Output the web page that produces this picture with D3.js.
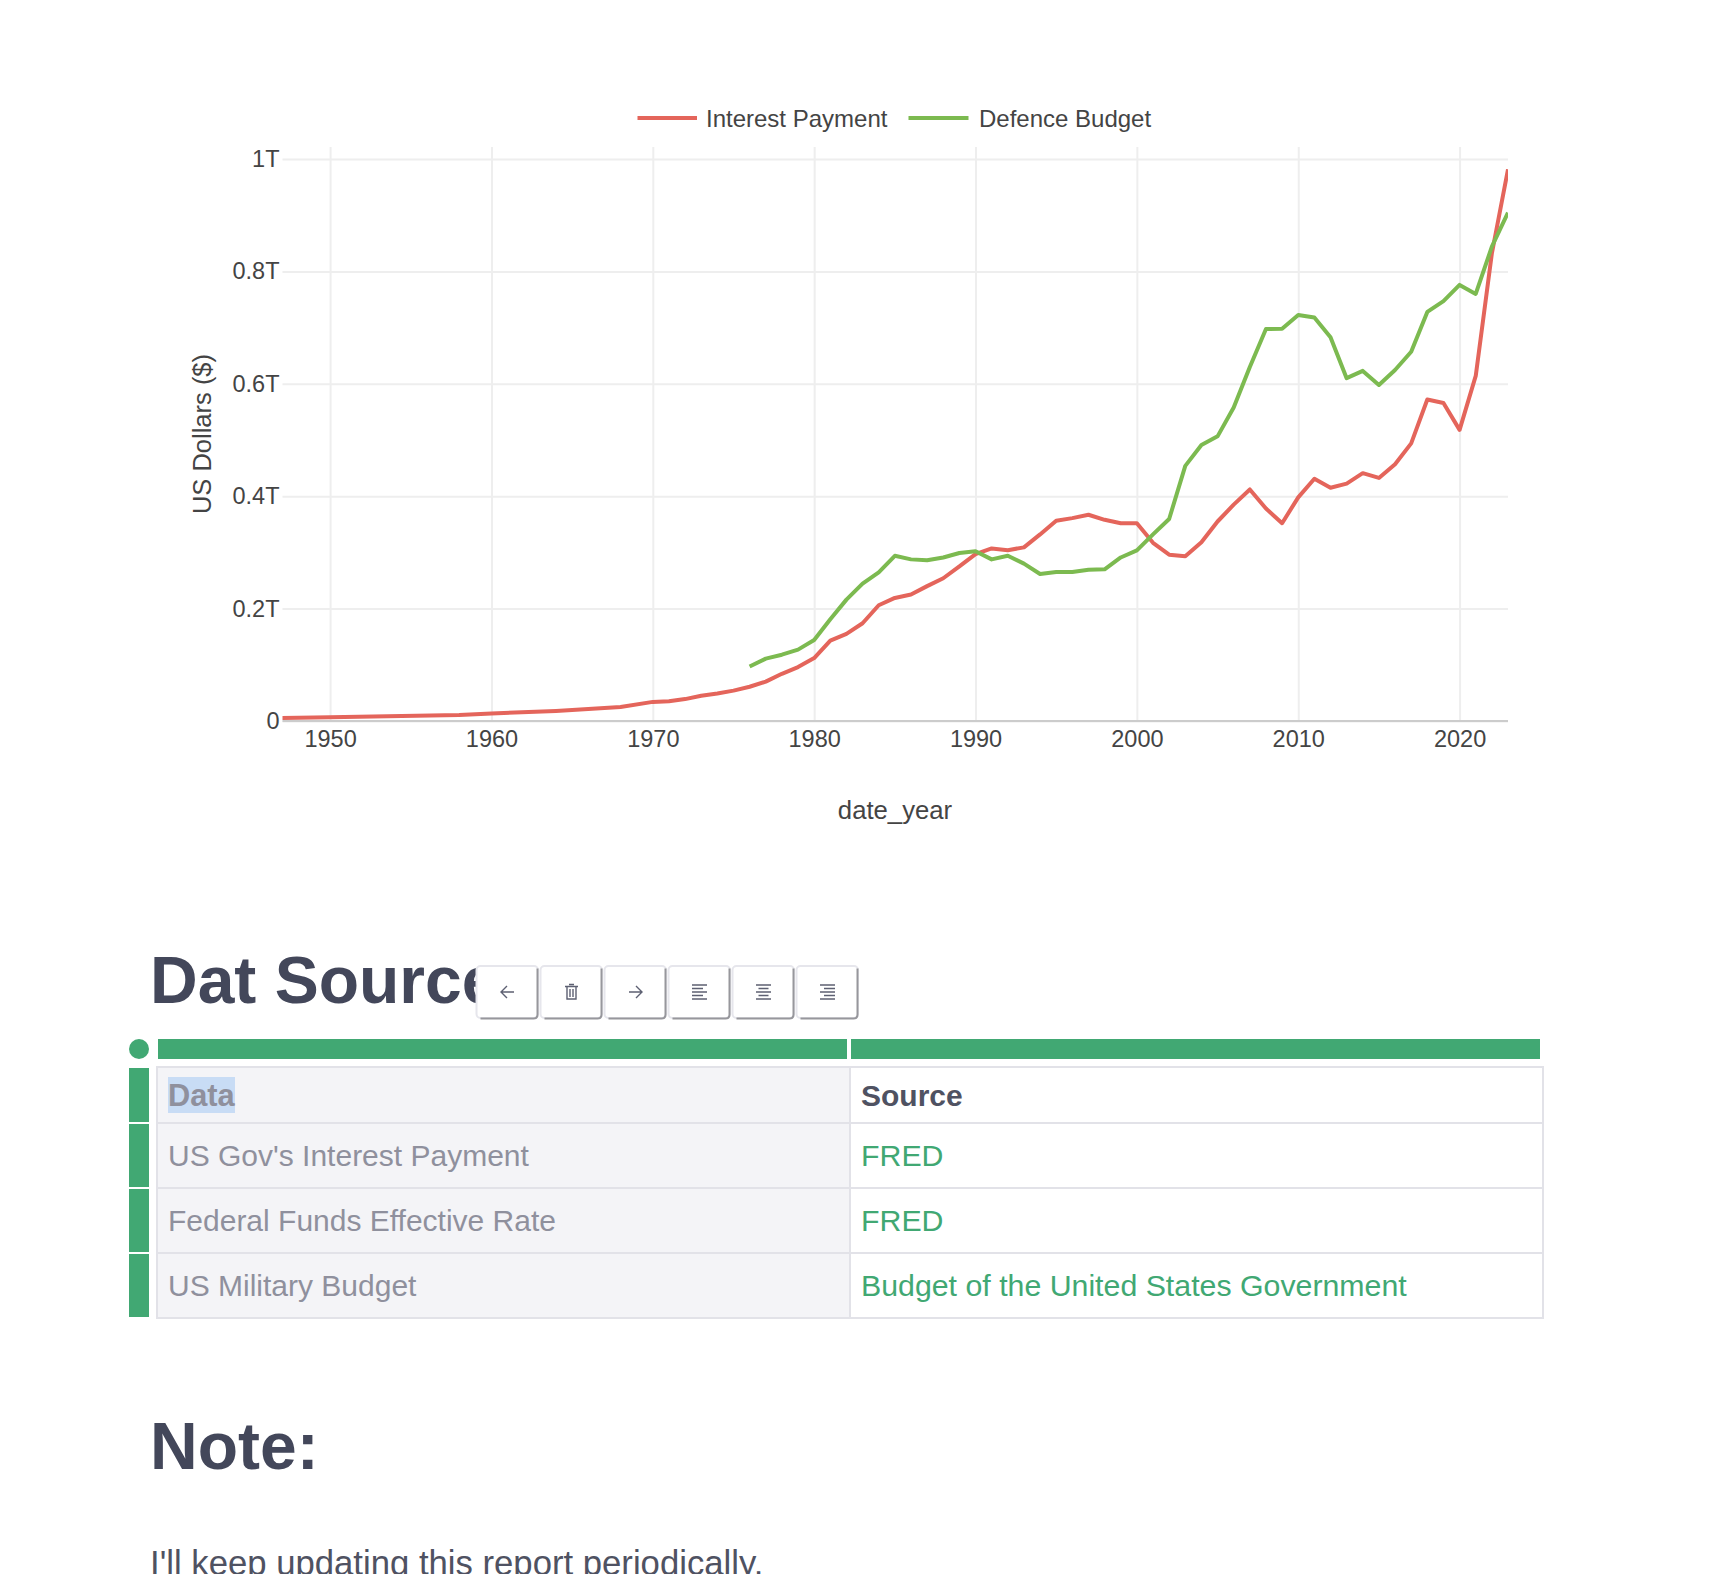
<!DOCTYPE html>
<html>
<head>
<meta charset="utf-8">
<style>
  html, body { margin: 0; padding: 0; background: #fff; overflow: hidden; }
  svg { display: block; font-family: "Liberation Sans", Arial, sans-serif; }
</style>
<script src="https://cdn.jsdelivr.net/npm/d3@7"></script>
</head>
<body>
<script>
const interestYears = [1947, 1950, 1958, 1960, 1964, 1968, 1970, 1971, 1972, 1973, 1974, 1975, 1976, 1977, 1978, 1979,
  1980, 1981, 1982, 1983, 1984, 1985, 1986, 1987, 1988, 1989, 1990, 1991, 1992, 1993, 1994, 1995, 1996, 1997, 1998, 1999,
  2000, 2001, 2002, 2003, 2004, 2005, 2006, 2007, 2008, 2009, 2010, 2011, 2012, 2013, 2014, 2015, 2016, 2017, 2018, 2019,
  2020, 2021, 2022, 2023]
const interestValues = [0.0053, 0.0065, 0.0106, 0.0135, 0.018, 0.025, 0.034, 0.035, 0.039, 0.045, 0.049, 0.054, 0.061, 0.07, 0.084, 0.096,
  0.112, 0.143, 0.155, 0.174, 0.206, 0.219, 0.225, 0.24, 0.254, 0.275, 0.297, 0.307, 0.304, 0.309, 0.332, 0.3565, 0.361, 0.367, 0.358, 0.352,
  0.352, 0.317, 0.296, 0.293, 0.318, 0.355, 0.385, 0.412, 0.378, 0.352, 0.398, 0.431, 0.415, 0.4225, 0.441, 0.4325, 0.457, 0.494, 0.572, 0.566,
  0.518, 0.614, 0.832, 0.9816]
const defenceYears = [1976, 1977, 1978, 1979, 1980, 1981, 1982, 1983, 1984, 1985, 1986, 1987, 1988, 1989, 1990, 1991, 1992, 1993, 1994, 1995,
  1996, 1997, 1998, 1999, 2000, 2001, 2002, 2003, 2004, 2005, 2006, 2007, 2008, 2009, 2010, 2011, 2012, 2013, 2014, 2015, 2016, 2017, 2018,
  2019, 2020, 2021, 2022, 2023]
const defenceValues = [0.097, 0.111, 0.118, 0.127, 0.144, 0.181, 0.216, 0.2445, 0.2646, 0.294, 0.2876, 0.286, 0.291, 0.299, 0.302, 0.2876, 0.294, 0.28, 0.2616, 0.265,
  0.265, 0.269, 0.27, 0.291, 0.3035, 0.332, 0.3595, 0.454, 0.491, 0.5065, 0.558, 0.63, 0.6975, 0.698, 0.7224, 0.718, 0.683, 0.61, 0.623, 0.598, 0.6245, 0.657, 0.728,
  0.747, 0.776, 0.76, 0.844, 0.9045]

const xTicks = [1950, 1960, 1970, 1980, 1990, 2000, 2010, 2020]
const yTicks = [0, 0.2, 0.4, 0.6, 0.8, 1]
const yTickLabels = ['0', '0.2T', '0.4T', '0.6T', '0.8T', '1T']
const seriesNames = ['Interest Payment', 'Defence Budget']
const seriesColors = ['#e4655b', '#7cba50']

const tableHead = ['Data', 'Source']
const tableFirst = ["US Gov's Interest Payment", 'Federal Funds Effective Rate', 'US Military Budget']
const tableSecond = ['FRED', 'FRED', 'Budget of the United States Government']

const width = 1728
const height = 1574
const plot = { left: 282.5, right: 1508, top: 147, bottom: 721 }

const svg = d3.select('body').append('svg')
  .attr('width', width)
  .attr('height', height)

const xScale = d3.scaleLinear()
  .domain([1947.05, 2023])
  .range([plot.left, plot.right])
const yScale = d3.scaleLinear()
  .domain([0, 1.0214])
  .range([plot.bottom, plot.top])

// axes, grid comes from the tick lines
const xAxis = svg.append('g')
  .attr('transform', `translate(0,${plot.bottom})`)
  .call(d3.axisBottom(xScale).tickValues(xTicks).tickFormat(d3.format('d')).tickSize(plot.top - plot.bottom).tickPadding(0))
xAxis.select('.domain').remove()
xAxis.selectAll('line').attr('stroke', '#eeeeee').attr('stroke-width', 2)
xAxis.selectAll('text')
  .attr('y', 26).attr('dy', 0)
  .attr('font-size', 23.5).attr('font-family', null).attr('fill', '#444444')

const yAxis = svg.append('g')
  .attr('transform', `translate(${plot.left},0)`)
  .call(d3.axisLeft(yScale).tickValues(yTicks).tickFormat((d, i) => yTickLabels[i]).tickSize(plot.left - plot.right).tickPadding(0))
yAxis.select('.domain').remove()
yAxis.selectAll('line').attr('stroke', '#eeeeee').attr('stroke-width', 2)
yAxis.selectAll('text')
  .attr('x', -3).attr('dy', 7.4)
  .attr('font-size', 23.5).attr('font-family', null).attr('fill', '#444444')

svg.append('line')
  .attr('x1', plot.left).attr('x2', plot.right)
  .attr('y1', plot.bottom).attr('y2', plot.bottom)
  .attr('stroke', '#cccccc').attr('stroke-width', 2)

svg.append('defs').append('clipPath').attr('id', 'plot-clip')
  .append('rect')
  .attr('x', plot.left).attr('y', plot.top)
  .attr('width', plot.right - plot.left).attr('height', plot.bottom - plot.top)

const line = d3.line()
  .x(d => xScale(d[0]))
  .y(d => yScale(d[1]))

svg.append('g').attr('clip-path', 'url(#plot-clip)')
  .selectAll('path')
  .data([d3.zip(interestYears, interestValues), d3.zip(defenceYears, defenceValues)])
  .enter()
  .append('path')
  .attr('d', line)
  .attr('fill', 'none')
  .attr('stroke', (d, i) => seriesColors[i])
  .attr('stroke-width', 4)
  .attr('stroke-linejoin', 'round')

// legend
const legendX = [[637.5, 697, 706], [908.5, 968.5, 979]]
const legend = svg.append('g').selectAll('g').data(seriesNames).enter().append('g')
legend.append('line')
  .attr('x1', (d, i) => legendX[i][0]).attr('x2', (d, i) => legendX[i][1])
  .attr('y1', 118).attr('y2', 118)
  .attr('stroke', (d, i) => seriesColors[i]).attr('stroke-width', 4)
legend.append('text')
  .attr('x', (d, i) => legendX[i][2]).attr('y', 127)
  .attr('font-size', 24).attr('fill', '#444444')
  .text(d => d)

svg.append('text')
  .attr('x', 895).attr('y', 819)
  .attr('text-anchor', 'middle')
  .attr('font-size', 25.7).attr('fill', '#444444')
  .text('date_year')
svg.append('text')
  .attr('transform', 'translate(211,434) rotate(-90)')
  .attr('text-anchor', 'middle')
  .attr('font-size', 25.5).attr('fill', '#444444')
  .text('US Dollars ($)')

// page text below the chart
const headingColor = '#43475a'
svg.append('text')
  .attr('x', 150).attr('y', 1003)
  .attr('font-size', 66).attr('font-weight', 700).attr('fill', headingColor)
  .text('Dat Source')
svg.append('text')
  .attr('x', 150).attr('y', 1469)
  .attr('font-size', 66).attr('font-weight', 700).attr('fill', headingColor)
  .text('Note:')
svg.append('text')
  .attr('x', 150).attr('y', 1574.5)
  .attr('font-size', 34.7).attr('fill', '#4f5262')
  .text("I'll keep updating this report periodically.")

// toolbar
const buttonX = d3.range(6).map(i => 476 + i * 64)
const button = svg.append('g').selectAll('g').data(buttonX).enter().append('g')
  .attr('transform', d => `translate(${d},965)`)
button.append('rect')
  .attr('x', 0.5).attr('y', 1).attr('width', 61.5).attr('height', 52).attr('rx', 4)
  .attr('fill', '#fff').attr('stroke', '#e6e6ec').attr('stroke-width', 2)
button.append('path')
  .attr('d', 'M4.5 53.5H57.5Q61.5 53.5 61.5 49.5V3.5')
  .attr('fill', 'none').attr('stroke', '#97979c').attr('stroke-width', 2)

const iconPaths = [
  'M38 27H25M31 21L25 27L31 33',
  'M25 21.5H38M27 21.5V34H36V21.5M30 24V32M33 24V32M29 19.5H34',
  'M25 27H38M32 21L38 27L32 33',
  'M24 20H39M24 23.5H35M24 27H39M24 30.5H35M24 34H39',
  'M24 20H39M26.5 23.5H36.5M24 27H39M26.5 30.5H36.5M24 34H39',
  'M24 20H39M28 23.5H39M24 27H39M28 30.5H39M24 34H39'
]
button.append('path')
  .attr('d', (d, i) => iconPaths[i])
  .attr('fill', 'none').attr('stroke', '#5d6072').attr('stroke-width', 1.4)

// table handles
const green = '#41a873'
svg.append('circle').attr('cx', 139).attr('cy', 1049).attr('r', 10).attr('fill', green)
svg.append('rect').attr('x', 158).attr('y', 1039).attr('width', 689).attr('height', 20).attr('fill', green)
svg.append('rect').attr('x', 851).attr('y', 1039).attr('width', 689).attr('height', 20).attr('fill', green)

const rowEdges = [1067, 1123, 1188, 1253, 1318]
svg.append('g').selectAll('rect').data(rowEdges.slice(0, -1)).enter().append('rect')
  .attr('x', 129).attr('y', (d, i) => d + 1)
  .attr('width', 20).attr('height', (d, i) => rowEdges[i + 1] - d - 2)
  .attr('fill', green)

// table
const table = { left: 157, mid: 850, right: 1543 }
const tableColor = '#e2e2e8'
svg.append('rect')
  .attr('x', table.left).attr('y', rowEdges[0])
  .attr('width', table.mid - table.left).attr('height', rowEdges[4] - rowEdges[0])
  .attr('fill', '#f4f4f7')
svg.append('g').selectAll('line').data(rowEdges).enter().append('line')
  .attr('x1', table.left - 1).attr('x2', table.right + 1)
  .attr('y1', d => d).attr('y2', d => d)
  .attr('stroke', tableColor).attr('stroke-width', 2)
svg.append('g').selectAll('line').data([table.left, table.mid, table.right]).enter().append('line')
  .attr('x1', d => d).attr('x2', d => d)
  .attr('y1', rowEdges[0]).attr('y2', rowEdges[4])
  .attr('stroke', tableColor).attr('stroke-width', 2)

svg.append('rect').attr('x', 168).attr('y', 1077).attr('width', 67).attr('height', 36).attr('fill', '#c8dcf5')
svg.append('text')
  .attr('x', 168).attr('y', 1105.5)
  .attr('font-size', 30.8).attr('font-weight', 700).attr('fill', '#8f909d')
  .text(tableHead[0])
svg.append('text')
  .attr('x', 861).attr('y', 1105.5)
  .attr('font-size', 30).attr('font-weight', 700).attr('fill', '#4f5262')
  .text(tableHead[1])

const rowBaselines = [1166, 1231, 1296]
svg.append('g').selectAll('text').data(tableFirst).enter().append('text')
  .attr('x', 168).attr('y', (d, i) => rowBaselines[i])
  .attr('font-size', 30).attr('fill', '#8f909d')
  .text(d => d)
svg.append('g').selectAll('text').data(tableSecond).enter().append('text')
  .attr('x', 861).attr('y', (d, i) => rowBaselines[i])
  .attr('font-size', 30.3).attr('fill', green)
  .text(d => d)
</script>
</body>
</html>
